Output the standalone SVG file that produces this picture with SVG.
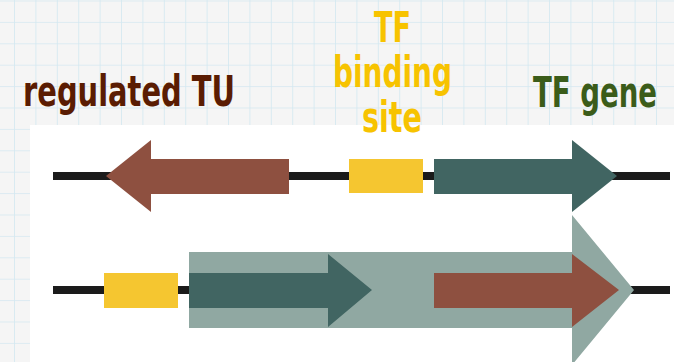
<svg xmlns="http://www.w3.org/2000/svg" width="674" height="362" viewBox="0 0 674 362">
  <defs>
    <pattern id="grid" x="-6.4" y="0.5" width="21.4" height="21.4" patternUnits="userSpaceOnUse">
      <path d="M21.4 0 V21.4 M0 0 H21.4" fill="none" stroke="#d3e8f1" stroke-width="1.6"/>
    </pattern>
    <style>
      .lbl { font-family: "DejaVu Sans Condensed", "DejaVu Sans", sans-serif; font-weight: bold; font-size: 42px; }
      .dna { stroke: #1b1b1b; stroke-width: 8; }
      .brown { fill: #8e5040; }
      .teal { fill: #416562; }
      .site { fill: #f5c630; }
      .halo { fill: #90a8a2; }
    </style>
  </defs>

  <!-- graph-paper backdrop -->
  <rect width="674" height="362" fill="#f5f5f5"/>
  <rect width="674" height="362" fill="url(#grid)"/>

  <!-- white panel holding the two gene rows -->
  <rect x="30" y="125" width="644" height="237" fill="#ffffff"/>

  <!-- DNA strands -->
  <g id="connectors">
    <line class="dna" x1="53" y1="176" x2="670" y2="176"/>
    <line class="dna" x1="53" y1="290" x2="670" y2="290"/>
  </g>

  <!-- row 1: divergent arrangement -->
  <g id="regulated-tu-gene">
    <polygon class="brown" points="289,159 151,159 151,140 106,176 151,212 151,194 289,194"/>
  </g>
  <g id="tf-binding-site-1">
    <rect class="site" x="349" y="159" width="74" height="34"/>
  </g>
  <g id="tf-gene-1">
    <polygon class="teal" points="434,159 572,159 572,140 617,176 572,212 572,194 434,194"/>
  </g>

  <!-- row 2: co-transcribed operon -->
  <g id="tf-binding-site-2">
    <rect class="site" x="104" y="273" width="74" height="35"/>
  </g>
  <g id="operon">
    <polygon class="halo" points="189,252 572,252 572,215 634,290 572,365 572,328 189,328"/>
  </g>
  <g id="tf-gene-2">
    <polygon class="teal" points="189,273 328,273 328,254 372,290 328,327 328,308 189,308"/>
  </g>
  <g id="regulated-tu-2">
    <polygon class="brown" points="434,273 572,273 572,254 619,290 572,327 572,308 434,308"/>
  </g>

  <!-- labels -->
  <g id="label-regulated-tu">
    <text class="lbl" x="23" y="106" fill="#5a1c02" textLength="212" lengthAdjust="spacingAndGlyphs">regulated TU</text>
  </g>
  <g id="label-tf-binding-site" fill="#f7c300">
    <text class="lbl" x="374" y="42" textLength="37" lengthAdjust="spacingAndGlyphs">TF</text>
    <text class="lbl" x="333" y="87" textLength="119" lengthAdjust="spacingAndGlyphs">binding</text>
    <text class="lbl" x="362" y="132" textLength="60" lengthAdjust="spacingAndGlyphs">site</text>
  </g>
  <g id="label-tf-gene" fill="#3b5c1a">
    <text class="lbl" transform="translate(657 107) scale(0.73 1)" text-anchor="end">TF gene</text>
  </g>
</svg>
